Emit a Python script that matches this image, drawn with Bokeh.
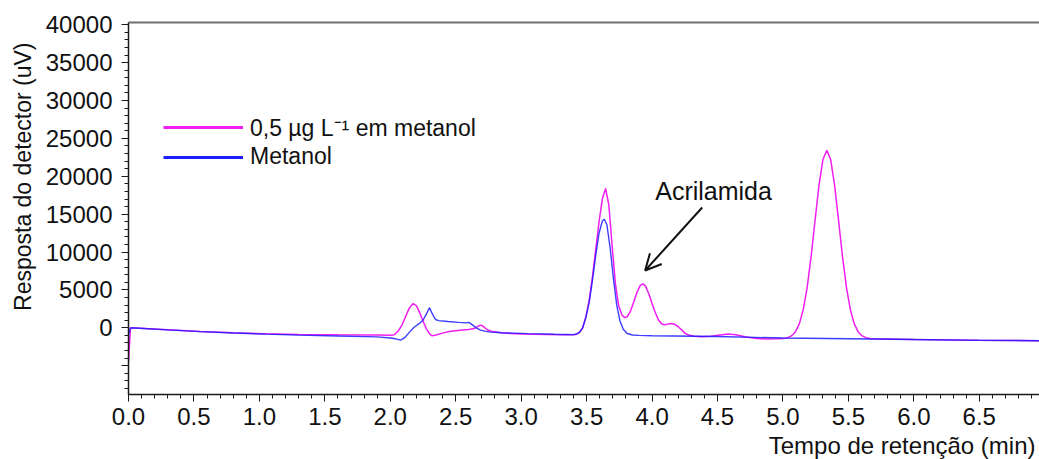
from bokeh.plotting import figure
from bokeh.models import (Range1d, SingleIntervalTicker, FixedTicker, LinearAxis,
                          Legend, LegendItem, Label, Arrow, OpenHead, Title,
                          PrintfTickFormatter, ColumnDataSource)
from bokeh.embed import file_html
from bokeh.resources import INLINE

# Chromatograms: retention time (min) and detector response (uV)
sample_time = [0.0, 0.015, 0.05, 0.3, 0.55, 0.8, 1.05, 1.3, 1.6, 1.9,
               2.0, 2.03, 2.06, 2.09, 2.12, 2.145, 2.175, 2.2, 2.225, 2.25,
               2.275, 2.3, 2.32, 2.35, 2.4, 2.45, 2.5, 2.55, 2.6, 2.64,
               2.67, 2.69, 2.71, 2.74, 2.78, 2.85, 2.92, 3.0, 3.1, 3.2,
               3.3, 3.4, 3.42, 3.445, 3.47, 3.495, 3.52, 3.545, 3.57, 3.595,
               3.62, 3.645, 3.67, 3.695, 3.72, 3.745, 3.77, 3.79, 3.81, 3.835,
               3.86, 3.885, 3.91, 3.93, 3.95, 3.975, 4.0, 4.025, 4.05, 4.075,
               4.1, 4.125, 4.15, 4.175, 4.2, 4.225, 4.25, 4.28, 4.32, 4.38,
               4.45, 4.52, 4.58, 4.64, 4.72, 4.8, 4.88, 4.95, 5.005, 5.035,
               5.065, 5.095, 5.125, 5.155, 5.185, 5.215, 5.245, 5.275, 5.305, 5.335,
               5.365, 5.395, 5.425, 5.455, 5.485, 5.515, 5.545, 5.575, 5.605, 5.635,
               5.665, 5.7, 6.0, 6.5, 6.96]
sample_uv = [-4500, 0, -20, -250, -480, -650, -780, -880, -930, -960,
             -980, -900, -450, 400, 1600, 2600, 3200, 2900, 2000, 900,
             -100, -800, -1050, -950, -700, -480, -380, -300, -220, -100,
             200, 350, 200, -250, -500, -650, -750, -830, -850, -870,
             -900, -920, -850, -620, 0, 1500, 3700, 6800, 10400, 14000,
             17000, 18400, 16200, 10800, 5800, 2900, 1700, 1350, 1450, 2200,
             3400, 4700, 5600, 5800, 5500, 4500, 3200, 2000, 1000, 500,
             420, 520, 560, 450, 150, -250, -700, -950, -1100, -1180,
             -1100, -950, -830, -900, -1200, -1420, -1480, -1440, -1400, -1300,
             -1070, -540, 520, 2400, 5340, 9390, 14140, 18770, 22180, 23450,
             22180, 18770, 14140, 9390, 5340, 2400, 520, -540, -1070, -1300,
             -1400, -1450, -1550, -1650, -1700]

blank_time = [0.0, 0.015, 0.05, 0.3, 0.55, 0.8, 1.05, 1.3, 1.6, 1.9,
              2.0, 2.04, 2.08, 2.11, 2.15, 2.18, 2.22, 2.25, 2.275, 2.3,
              2.32, 2.345, 2.37, 2.44, 2.52, 2.58, 2.6, 2.63, 2.66, 2.69,
              2.73, 2.77, 2.85, 2.95, 3.05, 3.15, 3.25, 3.35, 3.4, 3.42,
              3.445, 3.47, 3.495, 3.52, 3.545, 3.57, 3.595, 3.62, 3.635, 3.655,
              3.68, 3.705, 3.73, 3.755, 3.78, 3.81, 3.85, 3.9, 4.0, 4.5,
              5.0, 5.5, 6.0, 6.5, 6.96]
blank_uv = [-1000, 0, -30, -270, -500, -680, -830, -960, -1080, -1200,
            -1350, -1450, -1620, -1300, -500, 40, 550, 1000, 1800, 2660,
            1900, 1100, 950, 830, 720, 650, 720, 350, -50, -300,
            -470, -570, -650, -700, -760, -800, -850, -880, -900, -850,
            -600, 0, 1400, 3400, 6300, 9600, 12500, 14100, 14340, 13600,
            10500, 6500, 3000, 900, -200, -750, -950, -1000, -1050, -1150,
            -1350, -1450, -1550, -1650, -1700]

series_labels = ["0,5 µg L⁻¹ em metanol", "Metanol"]
series_colors = ["#f01ef0", "#1c1cff"]

# acrylamide peak (apex) used to anchor the annotation
acryl_time = 3.93
acryl_uv = 5800

FONT = "Liberation Sans"

p = figure(width=1039, height=459, frame_width=911, frame_height=372,
           output_backend="svg", toolbar_location=None,
           x_range=Range1d(0, 6.96), y_range=Range1d(-8800, 40300),
           min_border_left=128, min_border_right=0,
           min_border_top=22, min_border_bottom=0)
p.xgrid.visible = False
p.ygrid.visible = False
p.outline_line_color = None
p.background_fill_color = "white"
p.border_fill_color = "white"

for ax in (p.xaxis[0], p.yaxis[0]):
    ax.axis_line_color = "#1a1a1a"
    ax.axis_line_width = 1.5
    ax.major_tick_line_color = "#1a1a1a"
    ax.minor_tick_line_color = "#1a1a1a"
    ax.major_tick_out = 7
    ax.major_tick_in = 0
    ax.minor_tick_out = 4
    ax.minor_tick_in = 0
    ax.major_label_text_font = FONT
    ax.major_label_text_font_size = "24px"
    ax.major_label_text_color = "#111111"

p.xaxis.ticker = SingleIntervalTicker(interval=0.5, num_minor_ticks=5)
p.xaxis.formatter = PrintfTickFormatter(format="%.1f")
p.xaxis.major_label_standoff = 6

p.yaxis.ticker = SingleIntervalTicker(interval=5000, num_minor_ticks=5)
p.yaxis.major_label_overrides = {-5000: ""}
p.yaxis.major_label_standoff = 9

top = LinearAxis(ticker=FixedTicker(ticks=[]), axis_line_color="#707070",
                 axis_line_width=2, major_label_text_font_size="0px",
                 major_tick_line_color=None, minor_tick_line_color=None)
p.add_layout(top, "above")

# axis titles
p.add_layout(Title(text="Resposta do detector (uV)", align="right", offset=20,
                   standoff=14, text_font=FONT, text_font_size="23px",
                   text_font_style="normal", text_color="#111111"), "left")
p.add_layout(Title(text="Tempo de retenção (min)", align="right", offset=4,
                   standoff=4, text_font=FONT, text_font_size="24px",
                   text_font_style="normal", text_color="#111111"), "below")

sample_src = ColumnDataSource(dict(t=sample_time, uv=sample_uv))
blank_src = ColumnDataSource(dict(t=blank_time, uv=blank_uv))
p.line("t", "uv", source=sample_src, line_color=series_colors[0], line_width=1.5)
p.line("t", "uv", source=blank_src, line_color=series_colors[1], line_width=1.4,
       line_alpha=0.85)

# thicker swatches for the legend (single point each, so nothing shows in the plot)
sw_sample = p.line(x=sample_time[:1], y=sample_uv[:1],
                   line_color=series_colors[0], line_width=3)
sw_blank = p.line(x=blank_time[:1], y=blank_uv[:1],
                  line_color=series_colors[1], line_width=3)
legend = Legend(items=[LegendItem(label=series_labels[0], renderers=[sw_sample]),
                       LegendItem(label=series_labels[1], renderers=[sw_blank])],
                location=(35, 224), orientation="vertical",
                border_line_color=None, background_fill_alpha=0,
                padding=0, margin=0, spacing=-3,
                glyph_width=80, glyph_height=20, label_height=20,
                label_standoff=7, label_text_font=FONT,
                label_text_font_size="23px", label_text_color="#111111")
p.add_layout(legend)

p.add_layout(Arrow(end=OpenHead(size=16, line_width=2, line_color="#111111"),
                   x_start=acryl_time + 0.453, y_start=acryl_uv + 10080,
                   x_end=acryl_time + 0.017, y_end=acryl_uv + 1765,
                   line_width=2, line_color="#111111"))
p.add_layout(Label(x=acryl_time + 0.094, y=acryl_uv + 12325, text="Acrilamida",
                   text_font=FONT, text_font_size="25px", text_color="#111111",
                   text_align="left", text_baseline="middle"))

open("out.html", "w").write(file_html(p, INLINE))
